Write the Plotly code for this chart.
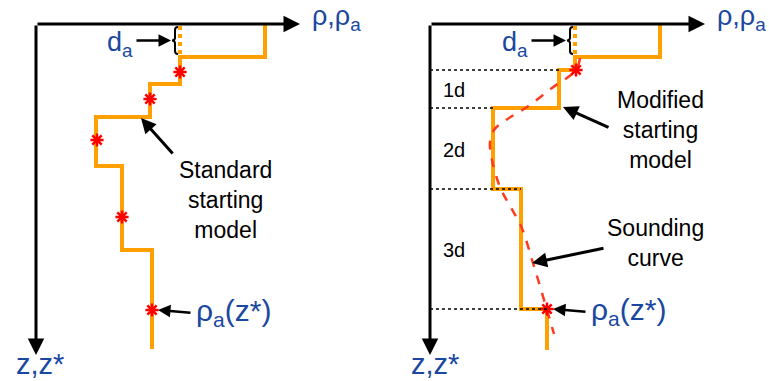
import plotly.graph_objects as go

# layer resistivities (horizontal position) and layer boundaries (depth), diagram units
left_rho = [265, 180, 150, 96, 122, 152]
left_bounds = [24, 57, 84, 117, 166, 250, 349]
left_star_x = [180, 150, 97, 122, 152]
left_star_z = [72, 99, 140, 217, 310]

right_rho = [660, 575, 559, 493, 521, 547]
right_bounds = [24, 57, 70, 108, 189, 309, 350]
right_star_x = [576, 547]
right_star_z = [70, 309]
layer_labels = ["1d", "2d", "3d"]

# sounding curve (apparent resistivity vs pseudo-depth)
sound_x = [580, 576, 552, 527, 506, 494, 490, 492, 500, 510, 521, 533, 547, 554]
sound_z = [58, 70, 88, 107, 120, 130, 142, 160, 187, 206, 226, 263, 310, 334]

ORANGE = '#FFA000'
BLUE = '#1A48A0'
FONT = 'Liberation Sans'


def step_path(rho, bounds):
    xs, zs = [], []
    for i, r in enumerate(rho):
        xs += [r, r]
        zs += [bounds[i], bounds[i + 1]]
    return xs, zs


fig = go.Figure()
annotations = []
shapes = []

panels = [
    dict(rho=left_rho, b=left_bounds, sx=left_star_x, sz=left_star_z, x0=36, xend=300, rlab=310, zlab=14),
    dict(rho=right_rho, b=right_bounds, sx=right_star_x, sz=right_star_z, x0=430, xend=705, rlab=715, zlab=409),
]

for pi, p in enumerate(panels):
    rho, b = p['rho'], p['b']

    # dotted layer boundaries on the right panel
    if pi == 1:
        for k, z in enumerate(b[2:6]):
            shapes.append(dict(type='line', x0=p['x0'], x1=rho[k + 2], y0=z, y1=z,
                               line=dict(color='black', width=1.5, dash='dot')))

    xs, zs = step_path(rho, b)
    fig.add_trace(go.Scatter(x=xs, y=zs, mode='lines', line=dict(color=ORANGE, width=4),
                             hoverinfo='skip', showlegend=False))
    # thin top layer d_a shown dotted
    fig.add_trace(go.Scatter(x=[rho[1], rho[1]], y=[b[0] + 2, b[1]], mode='lines',
                             line=dict(color=ORANGE, width=4, dash='dot'),
                             hoverinfo='skip', showlegend=False))

    if pi == 1:
        fig.add_trace(go.Scatter(x=sound_x, y=sound_z, mode='lines',
                                 line=dict(color='#FF3B1F', width=2.5, dash='dash', shape='spline'),
                                 hoverinfo='skip', showlegend=False))

    fig.add_trace(go.Scatter(x=p['sx'], y=p['sz'], mode='markers',
                             marker=dict(symbol='asterisk-open', size=11, color='red',
                                         line=dict(color='red', width=2.5)),
                             hoverinfo='skip', showlegend=False))

    # axes
    annotations.append(dict(x=p['xend'], y=b[0], ax=p['x0'], ay=b[0], xref='x', yref='y',
                            axref='x', ayref='y', text='', showarrow=True, arrowhead=2,
                            arrowsize=1.1, arrowwidth=3, arrowcolor='black'))
    annotations.append(dict(x=p['x0'], y=355, ax=p['x0'], ay=b[0], xref='x', yref='y',
                            axref='x', ayref='y', text='', showarrow=True, arrowhead=2,
                            arrowsize=1.1, arrowwidth=3, arrowcolor='black'))
    annotations.append(dict(x=p['rlab'], y=18, text='ρ,ρ<sub>a</sub>', showarrow=False,
                            xanchor='left', font=dict(size=27, color=BLUE, family=FONT)))
    annotations.append(dict(x=p['zlab'], y=364, text='z,z*', showarrow=False,
                            xanchor='left', font=dict(size=29, color=BLUE, family=FONT)))

    # d_a brace and label
    bx = rho[1] - 5
    zt, zb = b[0] + 3, b[1] - 3
    zm = (zt + zb) / 2
    shapes.append(dict(type='path',
                       path=f'M {bx+3} {zt} Q {bx} {zt} {bx} {zt+3} L {bx} {zm-3} Q {bx} {zm} {bx-3} {zm} '
                            f'Q {bx} {zm} {bx} {zm+3} L {bx} {zb-3} Q {bx} {zb} {bx+3} {zb}',
                       line=dict(color='black', width=2)))
    annotations.append(dict(x=bx - 4, y=zm, ax=bx - 40, ay=zm, xref='x', yref='y', axref='x',
                            ayref='y', text='', showarrow=True, arrowhead=2, arrowsize=1,
                            arrowwidth=2.5, arrowcolor='black'))
    annotations.append(dict(x=bx - 40, y=zm + 3, text='d<sub>a</sub>', showarrow=False,
                            xanchor='right', font=dict(size=27, color=BLUE, family=FONT)))

    # rho_a(z*) label
    tx, tz = p['sx'][-1], p['sz'][-1]
    annotations.append(dict(x=tx + 6, y=tz, ax=tx + 40, ay=tz + 3, xref='x', yref='y', axref='x',
                            ayref='y', text='', showarrow=True, arrowhead=2, arrowsize=1,
                            arrowwidth=2.5, arrowcolor='black'))
    annotations.append(dict(x=tx + 42, y=tz + 2, text='ρ<sub>a</sub>(z*)', showarrow=False,
                            xanchor='left', font=dict(size=30, color=BLUE, family=FONT)))

# layer thickness labels
for lab, z0, z1 in zip(layer_labels, right_bounds[2:5], right_bounds[3:6]):
    annotations.append(dict(x=441, y=(z0 + z1) / 2 + 1, text=lab, showarrow=False, xanchor='left',
                            font=dict(size=20, color='black', family=FONT)))

# callouts
callouts = [
    ('Standard<br>starting<br>model', 225, 200, 141, 118, 174, 155),
    ('Modified<br>starting<br>model', 660, 130, 563, 107, 610, 128),
    ('Sounding<br>curve', 655, 243, 532, 263, 605, 248),
]
for txt, cx, cz, hx, hz, tx, tz in callouts:
    annotations.append(dict(x=cx, y=cz, text=txt, showarrow=False,
                            font=dict(size=23, color='black', family=FONT)))
    annotations.append(dict(x=hx, y=hz, ax=tx, ay=tz, xref='x', yref='y', axref='x', ayref='y',
                            text='', showarrow=True, arrowhead=2, arrowsize=1, arrowwidth=3,
                            arrowcolor='black'))

fig.update_layout(
    width=769, height=381,
    margin=dict(l=0, r=0, t=0, b=0),
    plot_bgcolor='white', paper_bgcolor='white',
    xaxis=dict(range=[0, 769], visible=False, fixedrange=True),
    yaxis=dict(range=[381, 0], visible=False, fixedrange=True),
    annotations=annotations,
    shapes=shapes,
    showlegend=False,
)

fig.write_html("out.html", config={'displayModeBar': False},
               post_script="document.body.style.margin='0';document.body.style.overflow='hidden';")
